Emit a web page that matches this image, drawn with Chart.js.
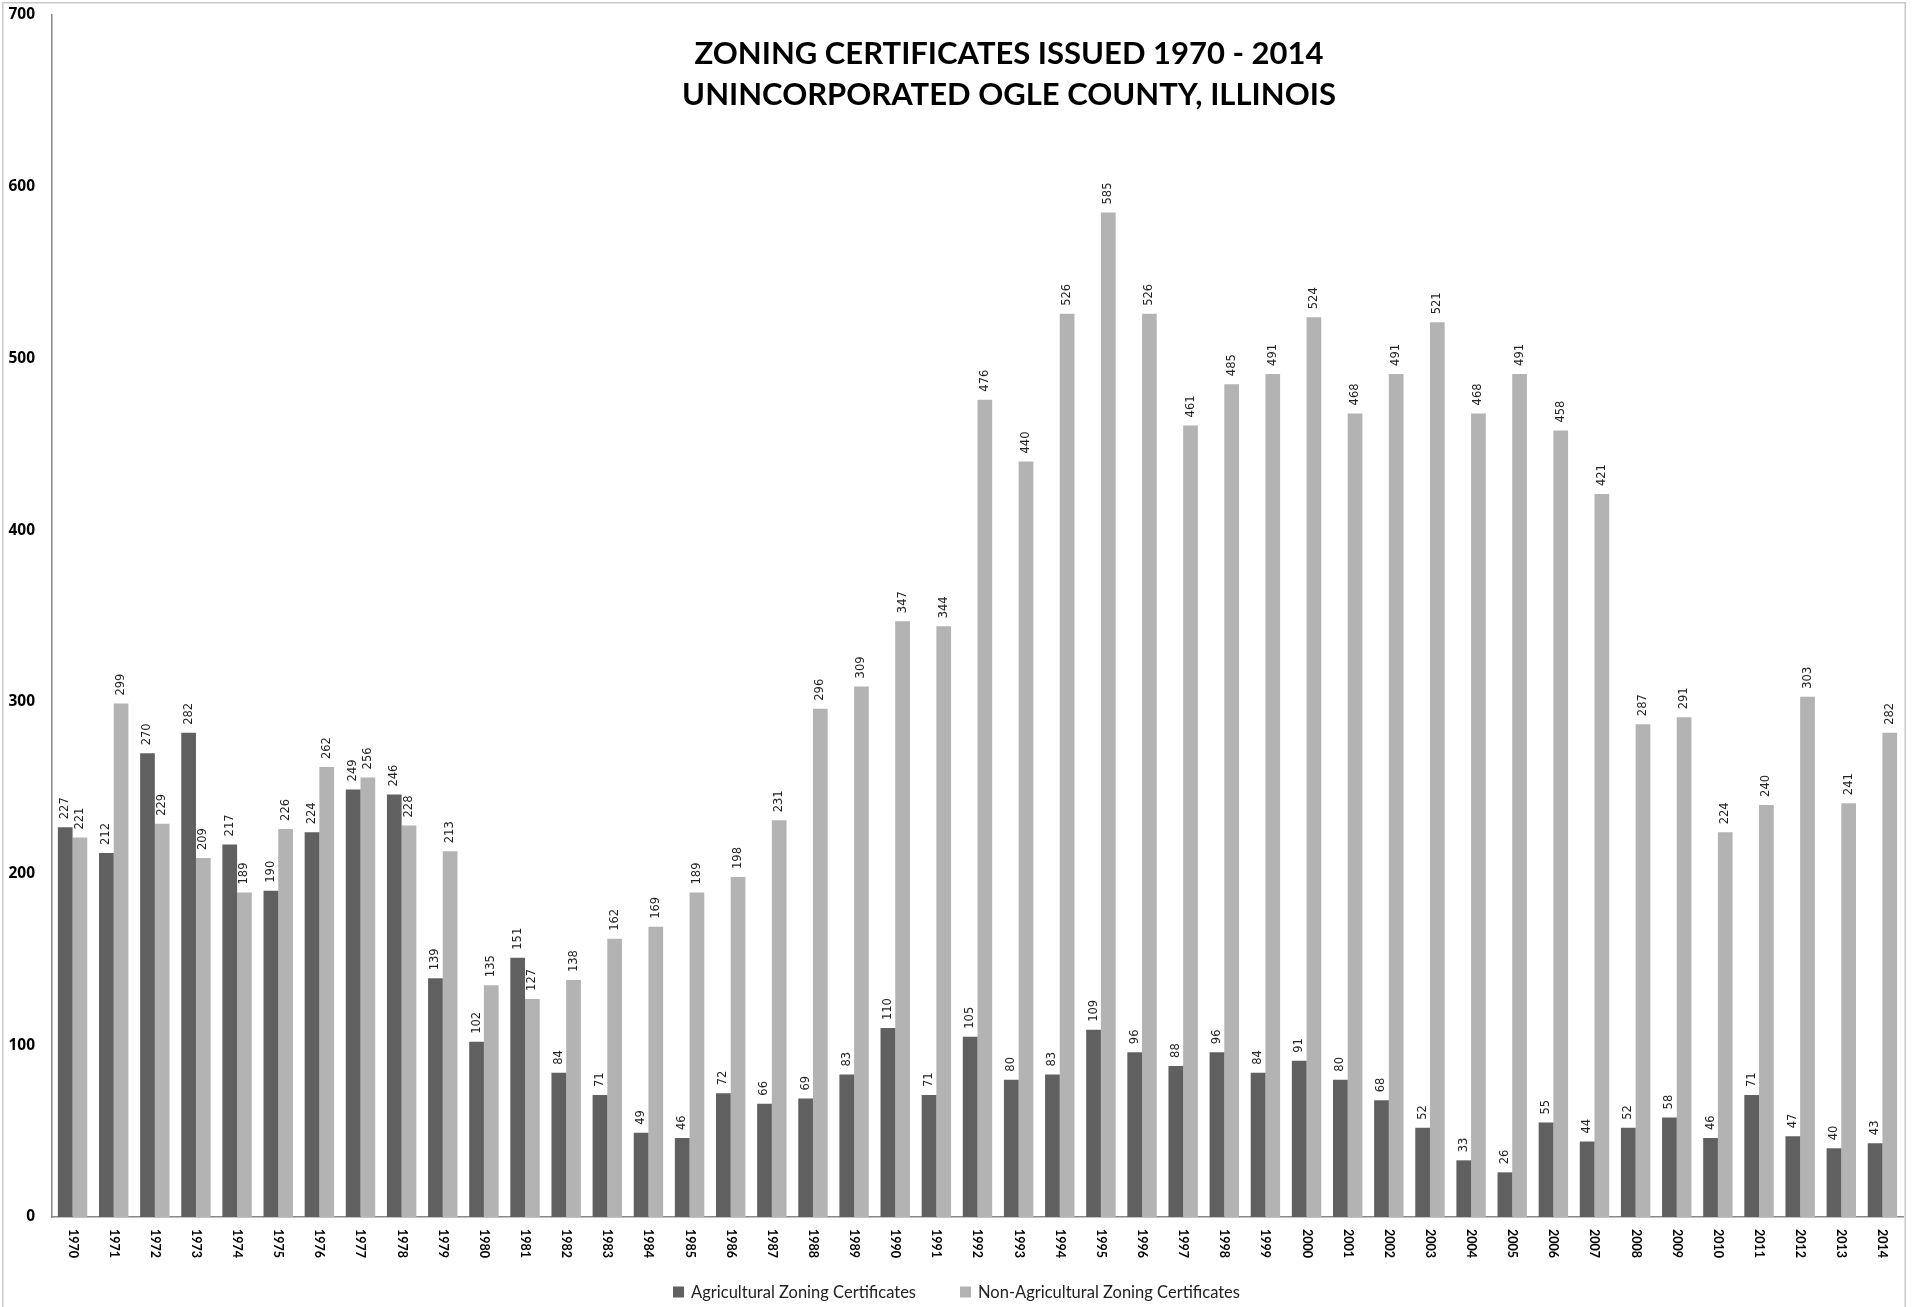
<!DOCTYPE html>
<html>
<head>
<meta charset="utf-8">
<script src="https://cdn.jsdelivr.net/npm/chart.js@4.4.1/dist/chart.umd.min.js"></script>
<style>
  html, body { margin: 0; padding: 0; background: #ffffff; }
  #wrap { width: 1913px; height: 1307px; position: relative; }
</style>
</head>
<body>
<div id="wrap"><canvas id="c" width="1913" height="1307"></canvas></div>
<script>
const years = ["1970","1971","1972","1973","1974","1975","1976","1977","1978","1979",
  "1980","1981","1982","1983","1984","1985","1986","1987","1988","1989",
  "1990","1991","1992","1993","1994","1995","1996","1997","1998","1999",
  "2000","2001","2002","2003","2004","2005","2006","2007","2008","2009",
  "2010","2011","2012","2013","2014"];
const agricultural = [227,212,270,282,217,190,224,249,246,139,
  102,151,84,71,49,46,72,66,69,83,
  110,71,105,80,83,109,96,88,96,84,
  91,80,68,52,33,26,55,44,52,58,
  46,71,47,40,43];
const nonAgricultural = [221,299,229,209,189,226,262,256,228,213,
  135,127,138,162,169,189,198,231,296,309,
  347,344,476,440,526,585,526,461,485,491,
  524,468,491,521,468,491,458,421,287,291,
  224,240,303,241,282];
const titleLines = ["ZONING CERTIFICATES ISSUED 1970 - 2014", "UNINCORPORATED OGLE COUNTY, ILLINOIS"];
const seriesNames = ["Agricultural Zoning Certificates", "Non-Agricultural Zoning Certificates"];
const seriesColors = ["#606060", "#b3b3b3"];
const yTicks = [0,100,200,300,400,500,600,700];

const frame = {
  id: 'frame',
  beforeDraw(chart) {
    const ctx = chart.ctx;
    ctx.save();
    ctx.fillStyle = '#ffffff';
    ctx.fillRect(0, 0, chart.width, chart.height);
    ctx.strokeStyle = '#c9c9c9';
    ctx.lineWidth = 1.5;
    ctx.strokeRect(2.75, 2.75, 1902.5, 1400);
    ctx.restore();
  },
  afterDatasetsDraw(chart) {
    const ctx = chart.ctx;
    ctx.save();
    // data labels
    ctx.font = '11.5px "DejaVu Sans"';
    ctx.fillStyle = '#222222';
    ctx.textAlign = 'left';
    ctx.textBaseline = 'middle';
    chart.data.datasets.forEach((ds, di) => {
      const meta = chart.getDatasetMeta(di);
      meta.data.forEach((bar, i) => {
        ctx.save();
        ctx.translate(bar.x, bar.y - 8);
        ctx.rotate(-Math.PI / 2);
        ctx.fillText(String(ds.data[i]), 0, 0);
        ctx.restore();
      });
    });
    // x category labels rotated clockwise
    const xs = chart.scales.x;
    ctx.font = 'bold 12.5px Lato';
    ctx.fillStyle = '#000000';
    xs.ticks.forEach((t, i) => {
      const x = xs.getPixelForTick(i);
      ctx.save();
      ctx.translate(x, xs.top + 12);
      ctx.rotate(Math.PI / 2);
      ctx.textAlign = 'left';
      ctx.textBaseline = 'middle';
      ctx.fillText(chart.data.labels[i], 0, 0);
      ctx.restore();
    });
    // title
    ctx.font = 'bold 31px Lato';
    ctx.textAlign = 'center';
    ctx.textBaseline = 'middle';
    ctx.fillStyle = '#000000';
    ctx.fillText(titleLines[0], 1009, 54);
    ctx.fillText(titleLines[1], 1009, 95);
    // legend
    ctx.font = '16.5px Lato';
    ctx.textBaseline = 'middle';
    ctx.textAlign = 'left';
    const box = 11, gapBox = 7, gapItem = 44, ly = 1292;
    const widths = chart.data.datasets.map(ds => box + gapBox + ctx.measureText(ds.label).width);
    const total = widths.reduce((a, b) => a + b, 0) + gapItem * (widths.length - 1);
    let lx = chart.width / 2 - total / 2;
    chart.data.datasets.forEach((ds, di) => {
      ctx.fillStyle = ds.backgroundColor;
      ctx.fillRect(lx, ly - box / 2, box, box);
      ctx.fillStyle = '#222222';
      ctx.fillText(ds.label, lx + box + gapBox, ly + 1);
      lx += widths[di] + gapItem;
    });
    ctx.restore();
  }
};

new Chart(document.getElementById('c'), {
  type: 'bar',
  data: {
    labels: years,
    datasets: [
      { label: seriesNames[0], data: agricultural, backgroundColor: seriesColors[0], borderWidth: 0,
        categoryPercentage: 0.715, barPercentage: 1.0 },
      { label: seriesNames[1], data: nonAgricultural, backgroundColor: seriesColors[1], borderWidth: 0,
        categoryPercentage: 0.715, barPercentage: 1.0 }
    ]
  },
  options: {
    responsive: false,
    animation: false,
    devicePixelRatio: 1,
    layout: { padding: { top: 15, right: 10, left: 0, bottom: 0 } },
    plugins: {
      title: { display: false },
      tooltip: { enabled: false },
      legend: { display: false }
    },
    scales: {
      x: {
        grid: { display: false, drawTicks: false },
        border: { display: true, color: '#888888', width: 1.5 },
        ticks: { display: false },
        afterFit(scale) { scale.height = 90; scale.paddingLeft = 0; scale.paddingRight = 0; }
      },
      y: {
        min: 0, max: 700,
        afterBuildTicks(scale) { scale.ticks = yTicks.map(v => ({ value: v })); },
        grid: { display: false, drawTicks: false },
        border: { display: true, color: '#888888', width: 1.5 },
        ticks: {
          padding: 17,
          color: '#000000',
          font: { family: 'Open Sans', size: 15.5, weight: 'bold' }
        },
        afterFit(scale) { scale.width = 52; scale.paddingTop = 0; scale.paddingBottom = 0; }
      }
    }
  },
  plugins: [frame]
});
</script>
</body>
</html>
